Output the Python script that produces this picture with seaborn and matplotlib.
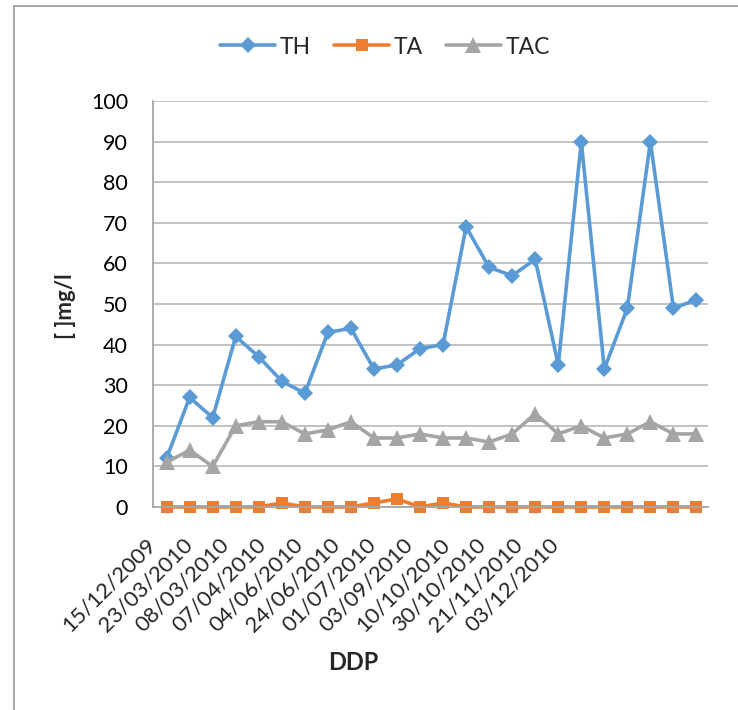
import numpy as np
import pandas as pd
import matplotlib
matplotlib.use("Agg")
import matplotlib.pyplot as plt
from matplotlib.lines import Line2D
import seaborn as sns

# Sampling campaign: 24 sampling dates, labels shown for every other one
tick_labels = ["15/12/2009", "23/03/2010", "08/03/2010", "07/04/2010",
               "04/06/2010", "24/06/2010", "01/07/2010", "03/09/2010",
               "10/10/2010", "30/10/2010", "21/11/2010", "03/12/2010"]

th = [12, 27, 22, 42, 37, 31, 28, 43, 44, 34, 35, 39,
      40, 69, 59, 57, 61, 35, 90, 34, 49, 90, 49, 51]
ta = [0, 0, 0, 0, 0, 1, 0, 0, 0, 1, 2, 0,
      1, 0, 0, 0, 0, 0, 0, 0, 0, 0, 0, 0]
tac = [11, 14, 10, 20, 21, 21, 18, 19, 21, 17, 17, 18,
       17, 17, 16, 18, 23, 18, 20, 17, 18, 21, 18, 18]

series_names = ["TH", "TA", "TAC"]
colors = {"TH": "#5B9BD5", "TA": "#ED7D31", "TAC": "#A5A5A5"}
markers = {"TH": "D", "TA": "s", "TAC": "^"}
msizes = {"TH": 8.5, "TA": 9, "TAC": 11}

idx = np.arange(len(th))
df = pd.DataFrame({"sample": np.tile(idx, 3),
                   "series": np.repeat(series_names, len(idx)),
                   "value": th + ta + tac})

sns.set_theme(style="white")
plt.rcParams["font.family"] = ["Lato", "DejaVu Sans"]

fig = plt.figure(figsize=(7.38, 7.10), dpi=100)
ax = fig.add_axes([153 / 738, 1 - 507 / 710, (708 - 153) / 738, (507 - 101) / 710])

for name in series_names:
    sub = df[df["series"] == name]
    sns.lineplot(data=sub, x="sample", y="value", ax=ax, color=colors[name],
                 marker=markers[name], markersize=msizes[name],
                 markeredgewidth=0, linewidth=2.6, legend=False, clip_on=False)

ax.set_xlim(-0.5, len(idx) - 0.5)
ax.set_ylim(0, 100)
ax.set_yticks(np.arange(0, 101, 10))
ax.tick_params(axis="y", labelsize=15.5, length=0, pad=18, colors="#000000")
ax.grid(axis="y", color="#BDBDBD", linewidth=1.3)
ax.grid(axis="x", visible=False)
ax.set_axisbelow(True)

# Date labels spread along the lower axis
label_pos = np.linspace(-0.59, 16.91, len(tick_labels))
ax.set_xticks(label_pos)
ax.set_xticklabels(tick_labels, rotation=45, ha="right", va="center",
                   rotation_mode="anchor", fontsize=16)
ax.tick_params(axis="x", length=0, pad=25)

for side in ["top", "right"]:
    ax.spines[side].set_visible(False)
for side in ["left", "bottom"]:
    ax.spines[side].set_color("#A6A6A6")
    ax.spines[side].set_linewidth(1.3)

ax.set_xlabel("")
ax.set_ylabel("")
fig.text(66 / 738, 1 - 306 / 710, "[ ]mg/l", rotation=90, ha="center",
         va="center", fontsize=16, fontweight="bold")
fig.text(353 / 738, 1 - 663 / 710, "DDP", ha="center", va="center",
         fontsize=17, fontweight="bold")

handles = [Line2D([0], [0], color=colors[n], marker=markers[n],
                  markersize=msizes[n], markeredgewidth=0, linewidth=2.6)
           for n in series_names]
fig.legend(handles, series_names, loc="center", ncol=3, frameon=False,
           bbox_to_anchor=(385 / 738, 1 - 47 / 710), fontsize=16.5,
           handlelength=2.4, handletextpad=0.2, columnspacing=1.0)

# Chart frame (left and top edges)
fig.add_artist(Line2D([14 / 738, 14 / 738], [0, 1 - 6 / 710],
                      transform=fig.transFigure, color="#A6A6A6", linewidth=1.4))
fig.add_artist(Line2D([14 / 738, 1], [1 - 6 / 710, 1 - 6 / 710],
                      transform=fig.transFigure, color="#A6A6A6", linewidth=1.4))

fig.savefig("out.png", dpi=100, facecolor="white")
